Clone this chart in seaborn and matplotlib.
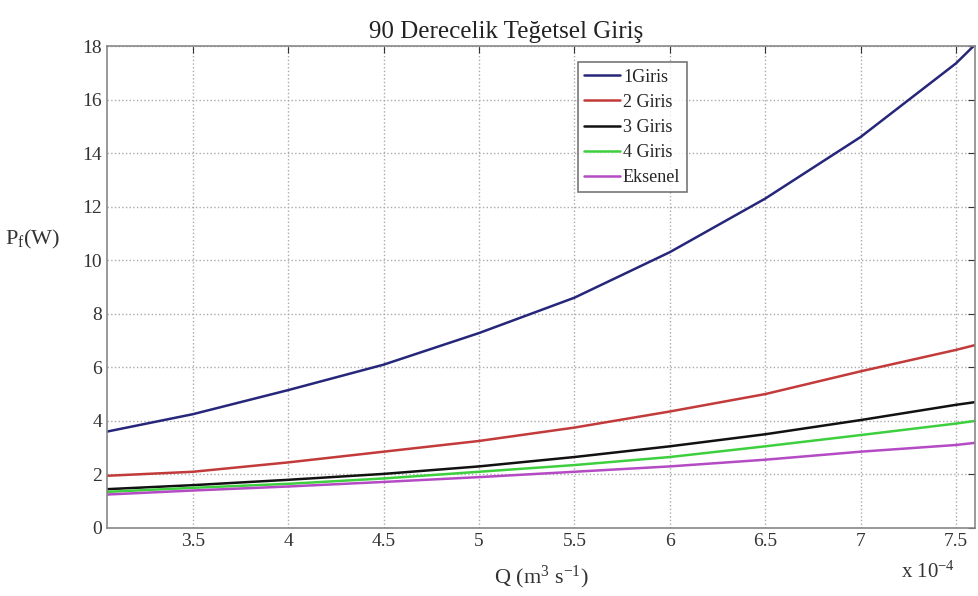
import numpy as np
import pandas as pd
import matplotlib.pyplot as plt
plt.switch_backend('agg')
import seaborn as sns

#####################################################
# DATA
q = [3.05, 3.5, 4.0, 4.5, 5.0, 5.5, 6.0, 6.5, 7.0, 7.5, 7.6]
giris1 = [3.6, 4.25, 5.15, 6.1, 7.28, 8.6, 10.3, 12.3, 14.6, 17.35, 18.05]
giris2 = [1.95, 2.1, 2.45, 2.85, 3.25, 3.75, 4.35, 5.0, 5.85, 6.65, 6.83]
giris3 = [1.45, 1.6, 1.8, 2.02, 2.3, 2.65, 3.05, 3.5, 4.03, 4.6, 4.7]
giris4 = [1.35, 1.5, 1.65, 1.85, 2.1, 2.35, 2.65, 3.05, 3.47, 3.9, 4.0]
eksenel = [1.25, 1.4, 1.55, 1.72, 1.9, 2.1, 2.3, 2.55, 2.85, 3.1, 3.18]

series_names = ["1Giris", "2 Giris", "3 Giris", "4 Giris", "Eksenel"]
colors = ["#26267a", "#c23a3a", "#111111", "#3ecf3e", "#b44ac4"]

#####################################################
df = pd.DataFrame({"Q": q * 5,
                   "Pf": giris1 + giris2 + giris3 + giris4 + eksenel,
                   "seri": np.repeat(series_names, len(q))})

sns.set_style("white")
plt.rcParams['font.family'] = ['Liberation Serif', 'DejaVu Serif']
plt.rcParams['mathtext.fontset'] = 'custom'
plt.rcParams['mathtext.rm'] = 'Liberation Serif'
plt.rcParams['mathtext.it'] = 'Liberation Serif:italic'

fig = plt.figure(figsize=(9.79, 5.96), dpi=100)
ax = fig.add_axes([0.1093, 0.1141, 0.8866, 0.8087])

sns.lineplot(data=df, x="Q", y="Pf", hue="seri", palette=colors, linewidth=1.8, ax=ax)

ax.set_xlim(3.05, 7.6)
ax.set_ylim(0, 18)
ax.set_xticks([3.5, 4, 4.5, 5, 5.5, 6, 6.5, 7, 7.5])
ax.set_xticklabels(["3.5", "4", "4.5", "5", "5.5", "6", "6.5", "7", "7.5"])
ax.set_yticks(range(0, 19, 2))
ax.tick_params(direction='in', top=True, right=True, labelsize=14, colors='#333333', length=5)
ax.grid(True, linestyle=':', color='#aaaaaa', linewidth=1)
for s in ax.spines.values():
	s.set_color('#888888')
	s.set_linewidth(1.2)

ax.set_xlabel(r'Q (m$^3$ s$^{-1}$)', fontsize=16, color='#333333', labelpad=10)
ax.set_ylabel(r'P$_\mathrm{f}$(W)', fontsize=16, rotation=0, color='#333333')
ax.yaxis.set_label_coords(-0.086, 0.575)
ax.set_title("90 Derecelik Teğetsel Giriş", fontsize=18, color='#222222', pad=6, x=0.46)

fig.text(0.92, 0.03, r'x 10$^{-4}$', fontsize=15, color='#333333')

leg = ax.legend(loc='upper left', bbox_to_anchor=(0.532, 0.985), fontsize=13,
                frameon=True, fancybox=False, handlelength=2.0, handletextpad=0.15,
                borderpad=0.35, labelspacing=0.45)
leg.get_frame().set_edgecolor('#555555')
leg.get_frame().set_linewidth(1.2)

plt.savefig("out.png", dpi=100)
